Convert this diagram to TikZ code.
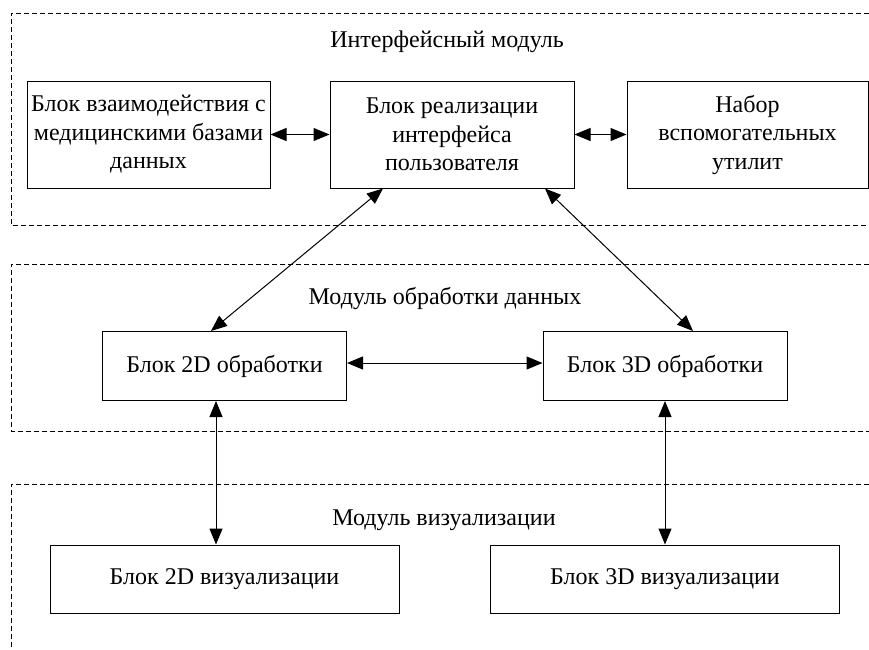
\documentclass[tikz,border=0pt]{standalone}
\usepackage{fontspec}
\setmainfont{Liberation Serif}
\usetikzlibrary{arrows.meta}
\begin{document}
\begin{tikzpicture}[x=1pt,y=-1pt,
  every node/.style={font=\fontsize{24}{28.5}\selectfont},
  blk/.style={draw,line width=1pt,align=center,inner sep=0pt},
  frame/.style={line width=0.9pt,dash pattern=on 5pt off 3pt},
  arr/.style={line width=1pt,{Triangle[length=16pt,width=13pt]}-{Triangle[length=16pt,width=13pt]}},
  ttl/.style={inner sep=0pt}]
\useasboundingbox (0,0) rectangle (869,649);
% frames
\draw[frame] (869,13) -- (11,13) -- (11,225) -- (869,225);
\draw[frame] (869,264) -- (11,264) -- (11,431) -- (869,431);
\draw[frame] (869,484) -- (11,484) -- (11,649);
% titles
\node[ttl] (t1) at (447,42) {Интерфейсный модуль};
\node[ttl] (t2) at (445,298) {Модуль обработки данных};
\node[ttl] (t3) at (444,520) {Модуль визуализации};
% boxes
\node[blk,minimum width=243pt,minimum height=107pt] (a) at (148.5,134.5) {Блок взаимодействия с\\медицинскими базами\\данных};
\node[blk,minimum width=244pt,minimum height=107pt] (b) at (452,134.5) {Блок реализации\\интерфейса\\пользователя};
\node[blk,minimum width=241pt,minimum height=107pt] (c) at (747.5,134.5) {Набор\\вспомогательных\\утилит};
\node[blk,minimum width=244pt,minimum height=69pt] (p2) at (224.5,366) {Блок 2D обработки};
\node[blk,minimum width=244pt,minimum height=69pt] (p3) at (665,366) {Блок 3D обработки};
\node[blk,minimum width=349pt,minimum height=68pt] (v2) at (224.5,579) {Блок 2D визуализации};
\node[blk,minimum width=349pt,minimum height=68pt] (v3) at (665,579) {Блок 3D визуализации};
% connectors
\draw[arr] (a.east) -- (b.west);
\draw[arr] (b.east) -- (c.west);
\draw[arr] ([xshift=-69pt]b.south) -- ([xshift=-13.5pt]p2.north);
\draw[arr] ([xshift=93pt]b.south) -- ([xshift=28pt]p3.north);
\draw[arr] ([yshift=3pt]p2.east) -- ([yshift=3pt]p3.west);
\draw[arr] ([xshift=-8.5pt]p2.south) -- ([xshift=-8.5pt]v2.north);
\draw[arr] (p3.south) -- (v3.north);
\end{tikzpicture}
\end{document}
